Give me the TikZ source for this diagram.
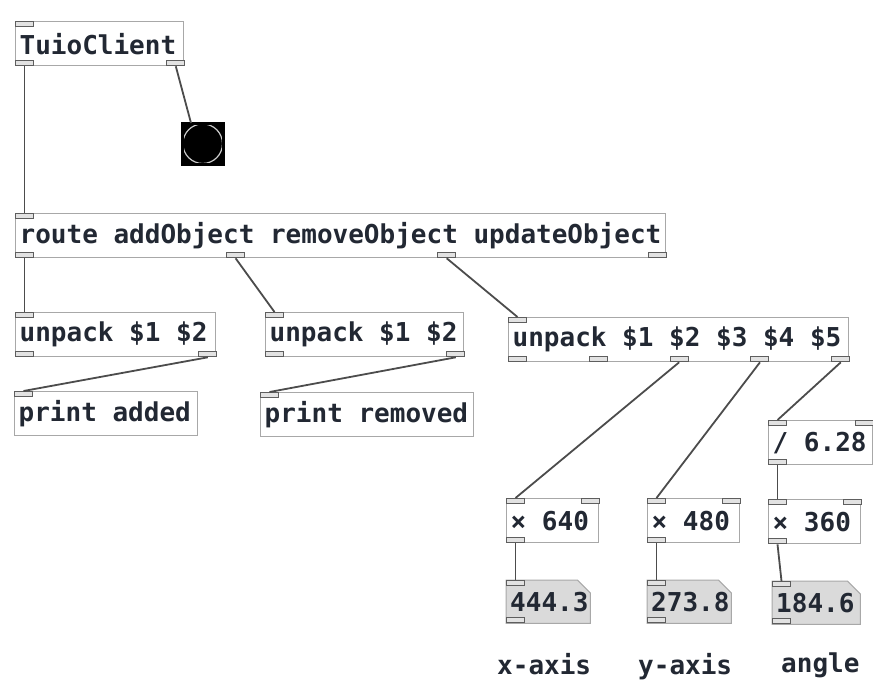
\documentclass[tikz,border=0pt]{standalone}
\usepackage{fontspec}
\setmonofont{DejaVu Sans Mono}
\usetikzlibrary{calc,backgrounds}
\definecolor{boxedge}{HTML}{A8A8A8}
\definecolor{wirec}{HTML}{4C4C4C}
\definecolor{ioletc}{HTML}{5E5E5E}
\definecolor{atomgray}{HTML}{DADADA}
\definecolor{inkc}{HTML}{222833}

% inlets along the top edge, outlets along the bottom edge (Pd spacing)
\newcommand{\inlets}[2]{%
  \foreach \k in {1,...,#2}{%
    \pgfmathsetmacro\t{(\k-1)/max(#2-1,1)}
    \node[port, anchor=north west, xshift=-18*\t] (#1-i\k) at ($(#1.north west)!\t!(#1.north east)$) {};
  }}
\newcommand{\outlets}[2]{%
  \foreach \k in {1,...,#2}{%
    \pgfmathsetmacro\t{(\k-1)/max(#2-1,1)}
    \node[port, anchor=south west, xshift=-18*\t] (#1-o\k) at ($(#1.south west)!\t!(#1.south east)$) {};
  }}

\begin{document}
\begin{tikzpicture}[x=1pt, y=-1pt,
  font=\fontsize{26}{28}\selectfont\ttfamily\bfseries,
  obj/.style={draw=boxedge, line width=1.3pt, fill=white, anchor=north west, inner xsep=4pt, inner ysep=0pt,
    minimum height=44pt, text=inkc, execute at begin node={\hbox to #1\bgroup}, execute at end node={\hfil\egroup}},
  atom/.style={anchor=north west, inner xsep=4pt, inner ysep=0pt, minimum height=43pt, text=inkc,
    execute at begin node={\hbox to #1\bgroup}, execute at end node={\hfil\egroup}},
  port/.style={draw=ioletc, fill=white!82!ioletc, line width=1pt, minimum width=18pt, minimum height=5pt, inner sep=0pt},
  wire/.style={draw=wirec, line width=1.8pt},
  note/.style={anchor=north west, inner sep=0pt, text=inkc}]
  \useasboundingbox (0,0) rectangle (873,688);
  % objects
  \node[obj=160pt] (tuio) at (15,21) {TuioClient};
  \node[obj=642pt] (route) at (15,213) {route addObject removeObject updateObject};
  \node[obj=192pt] (upadd) at (15,312) {unpack \$1 \$2};
  \node[obj=190pt] (uprem) at (265,312) {unpack \$1 \$2};
  \node[obj=332pt] (upupd) at (508,317) {unpack \$1 \$2 \$3 \$4 \$5};
  \node[obj=175pt] (printadd) at (14,391) {print added};
  \node[obj=205pt] (printrem) at (260,392) {print removed};
  \node[obj=96pt] (div) at (768,420) {/ 6.28};
  \node[obj=84pt] (mulx) at (506,498) {× 640};
  \node[obj=84pt] (muly) at (647,498) {× 480};
  \node[obj=84pt] (mula) at (768,499) {× 360};
  % number boxes
  \node[atom=76pt] (numx) at (506,580) {444.3};
  \node[atom=76pt] (numy) at (647,580) {273.8};
  \node[atom=80pt] (numa) at (772,581) {184.6};
  \begin{scope}[on background layer]
    \foreach \n in {numx,numy,numa}
      \filldraw[fill=atomgray, draw=boxedge, line width=1pt] (\n.north west) -- ($(\n.north east)+(-13,0)$)
        -- ($(\n.north east)+(0,13)$) -- (\n.south east) -- (\n.south west) -- cycle;
  \end{scope}
  % bang
  \node[fill=black, anchor=north west, minimum size=41pt, inner sep=0pt] (bang) at (182,123) {};
  \draw[white!80!black, line width=1.2pt] (bang.center) circle (19.8);
  \draw[black, line width=3pt] (bang.north west) rectangle (bang.south east);
  \coordinate (bang-i1) at ($(bang.north west)+(9,0)$);
  % comments
  \node[note] (xlab) at (497,653) {x-axis};
  \node[note] (ylab) at (638,653) {y-axis};
  \node[note] (alab) at (781,653) {angle};
  % ports
  \inlets{tuio}{1}   \outlets{tuio}{2}
  \inlets{route}{1}  \outlets{route}{4}
  \inlets{upadd}{1}  \outlets{upadd}{2}
  \inlets{uprem}{1}  \outlets{uprem}{2}
  \inlets{upupd}{1}  \outlets{upupd}{5}
  \inlets{printadd}{1}
  \inlets{printrem}{1}
  \inlets{div}{2}    \outlets{div}{1}
  \inlets{mulx}{2}   \outlets{mulx}{1}
  \inlets{muly}{2}   \outlets{muly}{1}
  \inlets{mula}{2}   \outlets{mula}{1}
  \inlets{numx}{1}   \outlets{numx}{1}
  \inlets{numy}{1}   \outlets{numy}{1}
  \inlets{numa}{1}   \outlets{numa}{1}
  % connections
  \draw[wire] (tuio-o1.south) -- (route-i1.north);
  \draw[wire] (tuio-o2.south) -- (bang-i1);
  \draw[wire] (route-o1.south) -- (upadd-i1.north);
  \draw[wire] (route-o2.south) -- (uprem-i1.north);
  \draw[wire] (route-o3.south) -- (upupd-i1.north);
  \draw[wire] (upadd-o2.south) -- (printadd-i1.north);
  \draw[wire] (uprem-o2.south) -- (printrem-i1.north);
  \draw[wire] (upupd-o3.south) -- (mulx-i1.north);
  \draw[wire] (upupd-o4.south) -- (muly-i1.north);
  \draw[wire] (upupd-o5.south) -- (div-i1.north);
  \draw[wire] (div-o1.south) -- (mula-i1.north);
  \draw[wire] (mulx-o1.south) -- (numx-i1.north);
  \draw[wire] (muly-o1.south) -- (numy-i1.north);
  \draw[wire] (mula-o1.south) -- (numa-i1.north);
\end{tikzpicture}
\end{document}
